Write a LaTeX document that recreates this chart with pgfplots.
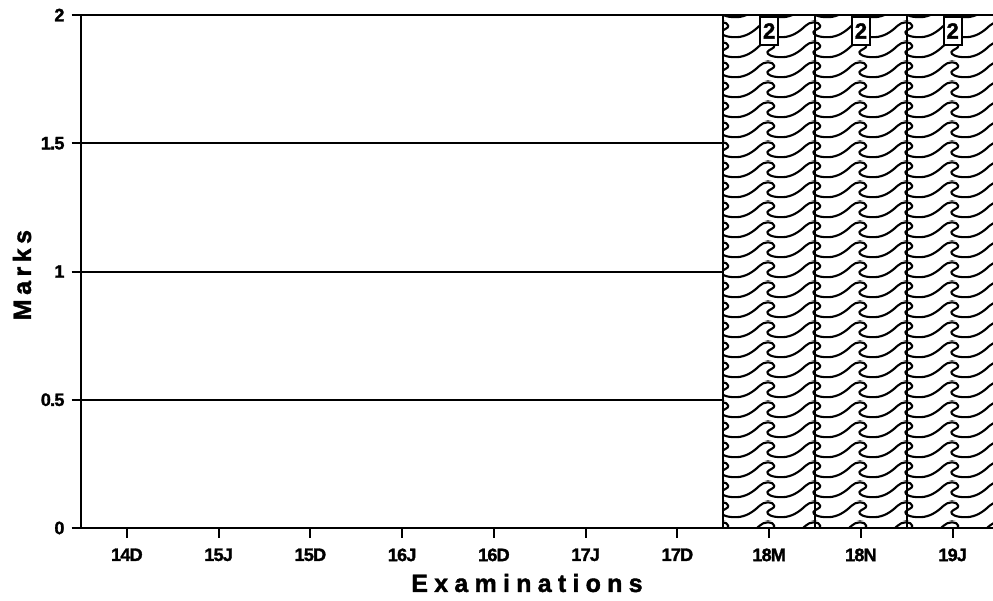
\documentclass[border=0pt]{standalone}
\usepackage{pgfplots}
\pgfplotsset{compat=1.18}
\usetikzlibrary{patterns}
\usepackage{fontspec}
\setmainfont{Liberation Sans}[BoldFeatures={FakeBold=1.6}]

\newcommand\wavepath[2]{%
  \pgfpathmoveto{\pgfpoint{#1pt+0pt}{#2pt+2pt}}%
  \pgfpathcurveto{\pgfpoint{#1pt+5pt}{#2pt+2pt}}{\pgfpoint{#1pt+9pt}{#2pt+5pt}}{\pgfpoint{#1pt+12pt}{#2pt+8pt}}%
  \pgfpathcurveto{\pgfpoint{#1pt+14pt}{#2pt+10.3pt}}{\pgfpoint{#1pt+19pt}{#2pt+10.5pt}}{\pgfpoint{#1pt+19.5pt}{#2pt+8pt}}%
  \pgfpathcurveto{\pgfpoint{#1pt+19.8pt}{#2pt+6.5pt}}{\pgfpoint{#1pt+16.5pt}{#2pt+6pt}}{\pgfpoint{#1pt+16pt}{#2pt+4.8pt}}%
  \pgfpathcurveto{\pgfpoint{#1pt+15.6pt}{#2pt+3.5pt}}{\pgfpoint{#1pt+18pt}{#2pt+2pt}}{\pgfpoint{#1pt+23pt}{#2pt+2pt}}%
}
\pgfdeclarepatternformonly{waves}{\pgfqpoint{0pt}{0pt}}{\pgfqpoint{23pt}{10pt}}{\pgfqpoint{23pt}{10pt}}{%
  \pgfsetlinewidth{1.1pt}%
  \pgfsetroundcap\pgfsetroundjoin
  \wavepath{-23}{0}\wavepath{0}{0}\wavepath{23}{0}%
  \wavepath{-23}{-10}\wavepath{0}{-10}\wavepath{23}{-10}%
  \wavepath{-23}{10}\wavepath{0}{10}\wavepath{23}{10}%
  \pgfusepath{stroke}%
}

\pgfplotsset{/pgf/number format/assume math mode=true}

\begin{document}
\begin{tikzpicture}
\path[use as bounding box] (0,0) rectangle (496.5pt,300.5pt);
\begin{axis}[
  at={(40.5pt,36.5pt)}, anchor=south west,
  scale only axis, width=456pt, height=256.5pt,
  xmin=-0.5, xmax=9.44, ymin=0, ymax=2,
  axis x line*=bottom, axis y line*=left,
  axis line style={-, line width=1pt, black},
  xtick={0,1,2,3,4,5,6,7,8,9},
  xticklabels={14D,15J,15D,16J,16D,17J,17D,18M,18N,19J},
  ytick={0,0.5,1,1.5,2},
  yticklabels={0,0.5,1,1.5,2},
  tick align=outside, major tick length=4.75pt,
  tick style={line width=1pt, black},
  ymajorgrids, grid style={line width=1pt, black},
  ticklabel style={font=\bfseries\fontsize{9}{10}\selectfont\addfontfeature{LetterSpace=-4}},
  xticklabel style={yshift=-2pt},
  xlabel={\addfontfeature{LetterSpace=25}Examinations},
  xlabel style={at={(axis description cs:0.489,-0.1072)}, anchor=center,
    font=\bfseries\fontsize{12.5}{14}\selectfont},
  ylabel={\addfontfeature{LetterSpace=18}Marks},
  ylabel style={at={(axis description cs:-0.0647,0.493)}, anchor=center,
    font=\bfseries\fontsize{12.5}{14}\selectfont},
]
\addplot[ybar, bar width=1, bar shift=0pt, draw=black, line width=1pt,
  fill=white, postaction={pattern=waves},
  nodes near coords, nodes near coords align={below},
  every node near coord/.append style={draw=black, fill=white, line width=0.9pt,
    inner sep=0.5pt, minimum width=9pt, minimum height=14pt, yshift=-0.5pt,
    font=\bfseries\fontsize{11}{12}\selectfont}]
  coordinates {(7,2) (8,2) (9,2)};
\end{axis}
\end{tikzpicture}
\end{document}
